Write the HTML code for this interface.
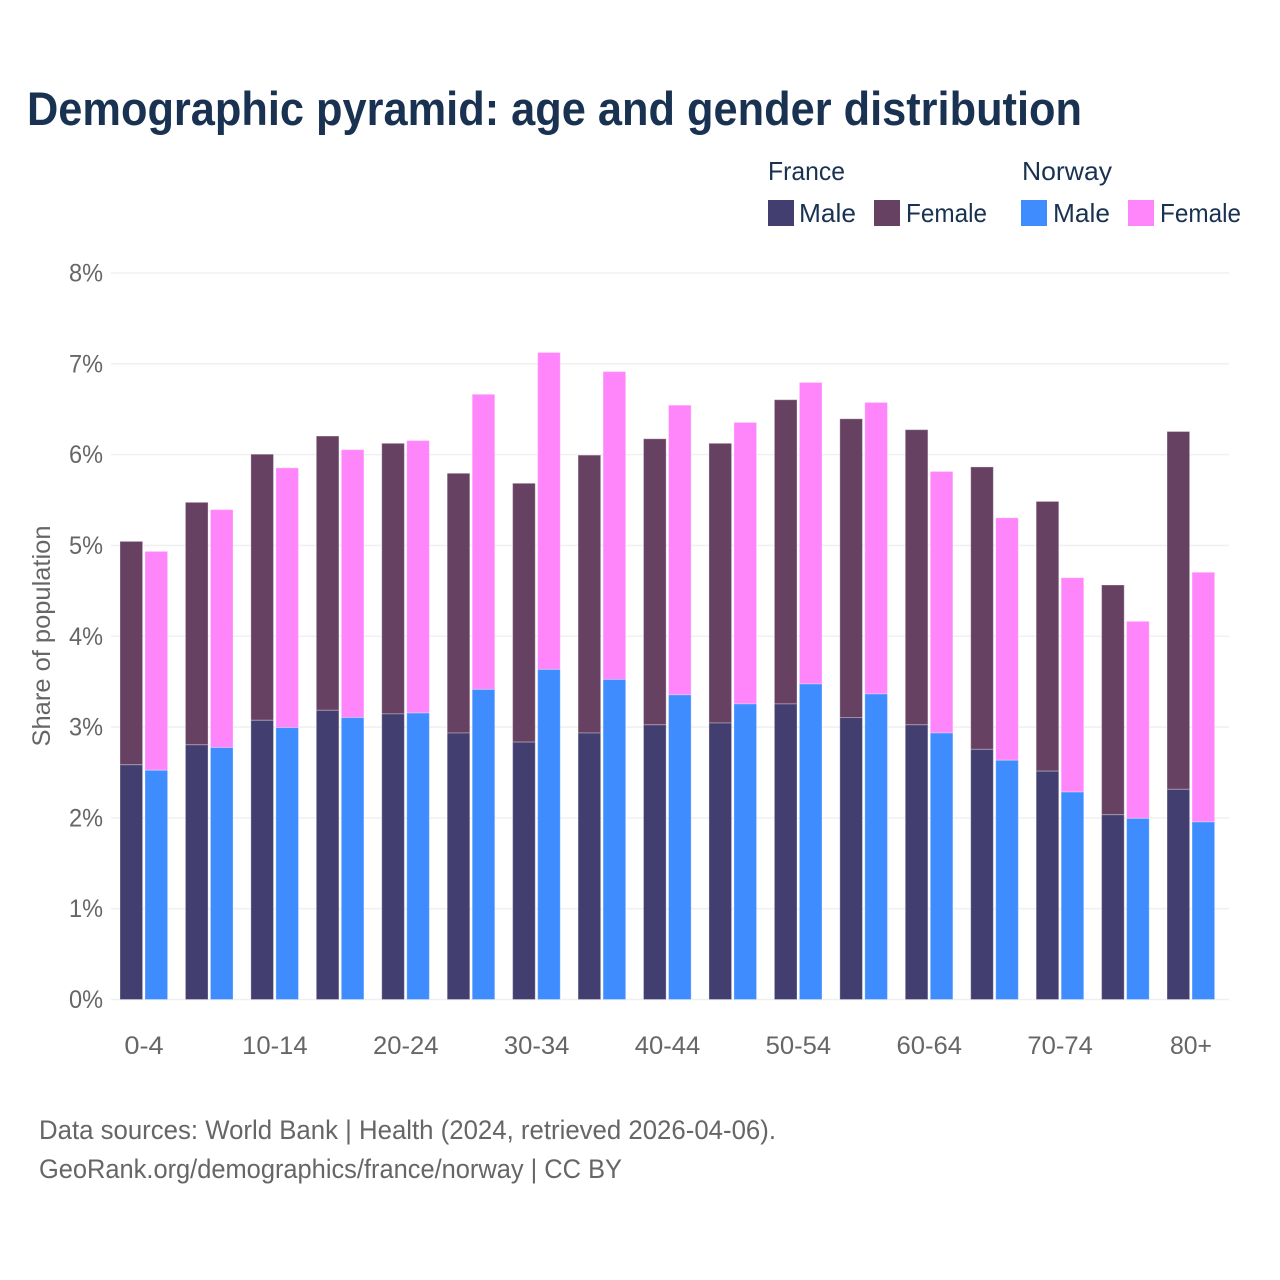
<!DOCTYPE html>
<html lang="en">
<head>
<meta charset="utf-8">
<title>Demographic pyramid</title>
<style>
html,body{margin:0;padding:0;background:#fff;}
svg{display:block;}
text{font-family:"Liberation Sans",sans-serif;}
</style>
</head>
<body>
<svg id="chart" xmlns="http://www.w3.org/2000/svg" width="1280" height="1280" viewBox="0 0 1280 1280">
  <rect x="0" y="0" width="1280" height="1280" fill="#ffffff"/>
  <text x="27" y="125" font-size="47" font-weight="700" fill="#1a3252" textLength="1055" lengthAdjust="spacingAndGlyphs">Demographic pyramid: age and gender distribution</text>

  <g font-size="26" fill="#1a3252">
    <text x="768" y="180" textLength="77" lengthAdjust="spacingAndGlyphs">France</text>
    <text x="1022" y="180" textLength="90" lengthAdjust="spacingAndGlyphs">Norway</text>
    <rect x="768" y="200" width="26" height="26" fill="#423f70"/>
    <text x="799" y="222" textLength="57" lengthAdjust="spacingAndGlyphs">Male</text>
    <rect x="874" y="200" width="26" height="26" fill="#674162"/>
    <text x="906" y="222" textLength="81" lengthAdjust="spacingAndGlyphs">Female</text>
    <rect x="1021" y="200" width="26" height="26" fill="#3f8cff"/>
    <text x="1053" y="222" textLength="57" lengthAdjust="spacingAndGlyphs">Male</text>
    <rect x="1128" y="200" width="26" height="26" fill="#ff85fb"/>
    <text x="1160" y="222" textLength="81" lengthAdjust="spacingAndGlyphs">Female</text>
  </g>

  <g id="grid"></g>
  <g id="bars"></g>
  <g id="yticks"></g>
  <g id="xticks"></g>

  <text transform="translate(50,636) rotate(-90)" text-anchor="middle" font-size="25" fill="#666666" textLength="221" lengthAdjust="spacingAndGlyphs">Share of population</text>

  <text x="39" y="1139" font-size="27" fill="#666666" textLength="737" lengthAdjust="spacingAndGlyphs">Data sources: World Bank | Health (2024, retrieved 2026-04-06).</text>
  <text x="39" y="1178" font-size="27" fill="#666666" textLength="583" lengthAdjust="spacingAndGlyphs">GeoRank.org/demographics/france/norway | CC BY</text>
</svg>
<script>
const ageGroups = ["0-4","5-9","10-14","15-19","20-24","25-29","30-34","35-39","40-44","45-49","50-54","55-59","60-64","65-69","70-74","75-79","80+"];
const xTickLabels = ["0-4","10-14","20-24","30-34","40-44","50-54","60-64","70-74","80+"];
const yTickValues = [0,1,2,3,4,5,6,7,8];
const franceMale = [2.59,2.81,3.08,3.19,3.15,2.94,2.84,2.94,3.03,3.05,3.26,3.11,3.03,2.76,2.52,2.04,2.32];
const franceFemale = [2.46,2.67,2.93,3.02,2.98,2.86,2.85,3.06,3.15,3.08,3.35,3.29,3.25,3.11,2.97,2.53,3.94];
const norwayMale = [2.53,2.78,3.00,3.11,3.16,3.42,3.64,3.53,3.36,3.26,3.48,3.37,2.94,2.64,2.29,2.00,1.96];
const norwayFemale = [2.41,2.62,2.86,2.95,3.00,3.25,3.49,3.39,3.19,3.10,3.32,3.21,2.88,2.67,2.36,2.17,2.75];

const NS = "http://www.w3.org/2000/svg";
const plotLeft = 111, plotRight = 1229, plotBase = 999.5, plotTop = 273;
const barWidth = 22.6, groupStep = 65.44, firstCenter = 144;
const barDrop = 0.5;
function yScale(v){ return plotBase - v * (plotBase - plotTop) / 8; }
function xScale(i){ return firstCenter + i * groupStep; }

const gridG = document.getElementById("grid");
const yG = document.getElementById("yticks");
yTickValues.forEach(function(v){
  const line = document.createElementNS(NS,"line");
  
  
  line.setAttribute("x1", plotLeft);
  line.setAttribute("x2", plotRight);
  line.setAttribute("y1", yScale(v));
  line.setAttribute("y2", yScale(v));
  line.setAttribute("stroke", "#f0f0f0");
  line.setAttribute("stroke-width", "1.6");
  gridG.appendChild(line);
  const t = document.createElementNS(NS,"text");
  
  
  t.setAttribute("x", 103);
  t.setAttribute("y", yScale(v) + 8.5);
  t.setAttribute("text-anchor", "end");
  t.setAttribute("font-size", "25");
  t.setAttribute("fill", "#666666");
  t.setAttribute("textLength", "34");
  t.setAttribute("lengthAdjust", "spacingAndGlyphs");
  t.textContent = v + "%";
  yG.appendChild(t);
});

const xG = document.getElementById("xticks");
xTickLabels.forEach(function(label){
  const i = ageGroups.indexOf(label);
  const t = document.createElementNS(NS,"text");
  
  
  t.setAttribute("x", xScale(i));
  t.setAttribute("y", 1054);
  t.setAttribute("text-anchor", "middle");
  t.setAttribute("font-size", "25");
  t.setAttribute("fill", "#666666");
  t.setAttribute("textLength", label === "80+" ? 42 : label.length * 13.1);
  t.setAttribute("lengthAdjust", "spacingAndGlyphs");
  t.textContent = label;
  xG.appendChild(t);
});

const barsG = document.getElementById("bars");
function drawBar(x, lower, upper, fill){
  const top = yScale(upper) + barDrop;
  const bottom = lower === 0 ? yScale(0) : yScale(lower) + barDrop;
  const r = document.createElementNS(NS,"rect");
  
  
  r.setAttribute("x", x);
  r.setAttribute("y", top);
  r.setAttribute("width", barWidth);
  r.setAttribute("height", bottom - top);
  r.setAttribute("fill", fill);
  r.setAttribute("stroke", "#ffffff");
  r.setAttribute("stroke-opacity", "0.3");
  r.setAttribute("stroke-width", "1");
  barsG.appendChild(r);
}
ageGroups.forEach(function(_, i){
  const c = xScale(i);
  const leftX = c - 24, rightX = c + 1;
  drawBar(leftX, franceMale[i], franceMale[i] + franceFemale[i], "#674162");
  drawBar(leftX, 0, franceMale[i], "#423f70");
  drawBar(rightX, norwayMale[i], norwayMale[i] + norwayFemale[i], "#ff85fb");
  drawBar(rightX, 0, norwayMale[i], "#3f8cff");
});
</script>
</body>
</html>
